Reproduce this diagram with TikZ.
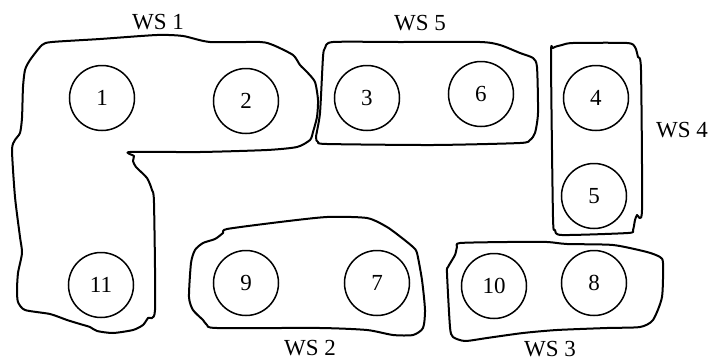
\documentclass[tikz,border=0pt]{standalone}
\usepackage{fontspec}
\setmainfont{Liberation Serif}
\begin{document}
\begin{tikzpicture}[x=0.5pt, y=-0.5pt,
        station/.style={circle, draw, line width=0.75pt, minimum size=32.5pt, inner sep=0pt, font=\fontsize{11.5}{13}\selectfont},
        wslabel/.style={inner sep=0pt, font=\fontsize{11.5}{13}\selectfont},
        zone/.style={line width=1pt, line join=round}]
        \useasboundingbox (0,0) rectangle (709,360);

        \node[station] (n1) at (102,98) {1};
        \node[station] (n2) at (246,101) {2};
        \node[station] (n3) at (367,98) {3};
        \node[station] (n6) at (481,94) {6};
        \node[station] (n4) at (596,98) {4};
        \node[station] (n5) at (594,196) {5};
        \node[station] (n11) at (101,285) {11};
        \node[station] (n9) at (246,283) {9};
        \node[station] (n7) at (377,283) {7};
        \node[station] (n10) at (494,286) {10};
        \node[station] (n8) at (594,283) {8};

        \node[wslabel] (ws1) at (158,22) {WS 1};
        \node[wslabel] (ws5) at (420,23) {WS 5};
        \node[wslabel] (ws4) at (682,130) {WS 4};
        \node[wslabel] (ws2) at (310,348) {WS 2};
        \node[wslabel] (ws3) at (550,349) {WS 3};

        \draw[zone] plot[smooth cycle, tension=0.4] coordinates {(52,42) (100,39) (157,35) (183,36) (210,42) (260,42) (273,45) (293,55) (300,65) (307,72) (315,82) (318,100) (317,117) (313,132) (310,140) (297,147) (267,150) (200,152) (130,152) (134,156) (133,161) (136,167) (147,178) (152,190) (154,203) (155,310) (148,318) (143,325) (133,330) (113,333) (97,331) (90,327) (80,324) (67,320) (50,314) (25,310) (18,302) (17,290) (18,273) (22,253) (20,237) (15,197) (12,150) (15,140) (20,133) (22,118) (23,87) (25,70) (30,60) (42,45)};
        \draw[zone] plot[smooth cycle, tension=0.4] coordinates {(333,42) (400,42) (480,42) (500,45) (520,53) (533,58) (537,67) (538,113) (535,133) (530,140) (520,143) (433,145) (327,144) (318,142) (316,137) (320,113) (323,57) (325,48)};
        \draw[zone] plot[smooth cycle, tension=0.4] coordinates {(562,45) (573,43) (627,43) (635,47) (638,57) (641,70) (642,210) (637,215) (635,220) (633,230) (628,233) (562,235) (555,230) (553,217) (551,57) (553,48)};
        \draw[zone] plot[smooth cycle, tension=0.4] coordinates {(227,229) (280,222) (327,217) (367,218) (387,227) (402,238) (413,247) (417,253) (422,280) (425,310) (423,328) (413,335) (393,335) (367,330) (320,328) (217,328) (207,325) (203,320) (193,310) (189,297) (191,263) (195,250) (203,243) (215,239) (223,233)};
        \draw[zone] plot[smooth cycle, tension=0.4] coordinates {(460,243) (507,242) (547,242) (567,244) (613,245) (647,252) (660,257) (663,263) (662,297) (653,320) (640,327) (607,328) (557,330) (523,333) (487,338) (465,341) (453,337) (450,327) (447,273) (448,267) (455,255) (457,247)};
    \end{tikzpicture}
\end{document}
